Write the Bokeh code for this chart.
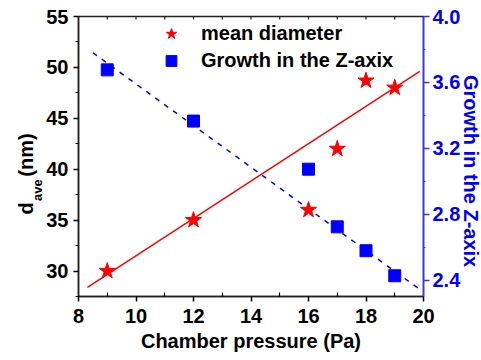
from bokeh.plotting import figure
from bokeh.models import (Range1d, LinearAxis, FixedTicker, Legend, LegendItem,
                          PrintfTickFormatter, Title)
from bokeh.embed import file_html
from bokeh.resources import INLINE

# ---- data ----
pressure = [9, 12, 16, 17, 18, 19]
diameter = [30, 35, 36, 42, 48.7, 48]
growth = [3.676, 3.365, 3.073, 2.723, 2.578, 2.426]

fit_d_x = [8.31, 19.87]
fit_d_y = [28.4, 49.6]
fit_g_x = [8.5, 19.8]
fit_g_y = [3.78, 2.352]

x_ticks = [8, 10, 12, 14, 16, 18, 20]
x_minor = [9, 11, 13, 15, 17, 19]
yl_ticks = [30, 35, 40, 45, 50, 55]
yl_minor = [27.5, 32.5, 37.5, 42.5, 47.5, 52.5]
yr_ticks = [2.4, 2.8, 3.2, 3.6, 4.0]
yr_minor = [2.6, 3.0, 3.4, 3.8]

FONT = "Liberation Sans"
RED = "#ff0000"
BLUE = "#0000ff"

W, H = 481, 360
L, R, T, B = 78, 58, 16, 64
X0, X1 = 8, 20
Y0, Y1 = 27.5, 55
TOP_TICK_PX = 3

p = figure(width=W, height=H, x_range=Range1d(X0, X1), y_range=Range1d(Y0, Y1),
           output_backend="svg", toolbar_location=None,
           min_border_left=L, min_border_right=R, min_border_top=T,
           min_border_bottom=B)
p.extra_y_ranges = {"g": Range1d(2.3, 4.0)}
p.grid.visible = False
p.outline_line_color = "#222222"
p.outline_line_width = 1.5
p.background_fill_color = "white"
p.border_fill_color = "white"

# bottom axis
xa = p.xaxis[0]
xa.ticker = FixedTicker(ticks=x_ticks, minor_ticks=x_minor)
xa.axis_label = "Chamber pressure (Pa)"
xa.axis_label_text_font = FONT
xa.axis_label_text_font_style = "bold"
xa.axis_label_text_font_size = "20px"
xa.axis_label_text_color = "black"
xa.axis_label_standoff = 4
xa.major_label_text_font = FONT
xa.major_label_text_font_style = "bold"
xa.major_label_text_font_size = "20px"
xa.major_label_text_color = "black"
xa.major_label_standoff = 7
xa.axis_line_width = 1.5
xa.axis_line_color = "#222222"
xa.major_tick_out = 5
xa.major_tick_in = 0
xa.minor_tick_out = 0
xa.minor_tick_in = 4
xa.major_tick_line_width = 1.5
xa.minor_tick_line_width = 1.2

# left axis
ya = p.yaxis[0]
ya.ticker = FixedTicker(ticks=yl_ticks, minor_ticks=yl_minor)
ya.major_label_text_font = FONT
ya.major_label_text_font_style = "bold"
ya.major_label_text_font_size = "20px"
ya.major_label_text_color = "black"
ya.major_label_standoff = 5
ya.axis_line_width = 1.5
ya.axis_line_color = "#222222"
ya.major_tick_out = 5
ya.major_tick_in = 0
ya.minor_tick_out = 3
ya.minor_tick_in = 0
ya.major_tick_line_width = 1.5
ya.minor_tick_line_width = 1.2

# right axis
ra = LinearAxis(y_range_name="g",
                ticker=FixedTicker(ticks=yr_ticks, minor_ticks=yr_minor),
                formatter=PrintfTickFormatter(format="%.1f"))
ra.major_label_text_font = FONT
ra.major_label_text_font_style = "bold"
ra.major_label_text_font_size = "20px"
ra.major_label_text_color = BLUE
ra.major_label_standoff = 3
ra.axis_label_standoff = 0
ra.axis_line_color = "#3333ff"
ra.axis_line_width = 1.5
ra.major_tick_line_color = "#3333ff"
ra.minor_tick_line_color = "#3333ff"
ra.major_tick_out = 6
ra.major_tick_in = 0
ra.minor_tick_out = 2
ra.minor_tick_in = 0
ra.major_tick_line_width = 1.5
ra.minor_tick_line_width = 1.2
p.add_layout(ra, "right")

# mirrored inward ticks on the top frame edge (from the x tick lists)
top_ticks = sorted(x_ticks + x_minor)[1:-1]
tick_len = TOP_TICK_PX * (Y1 - Y0) / (H - T - B)
p.segment(x0=top_ticks, y0=[Y1] * len(top_ticks), x1=top_ticks,
          y1=[Y1 - tick_len] * len(top_ticks), line_color="#222222",
          line_width=1.2)

# data
p.line(fit_d_x, fit_d_y, line_color=RED, line_width=1.5)
p.line(fit_g_x, fit_g_y, line_color=BLUE, line_width=1.5, line_dash="5 6",
       y_range_name="g")
stars = p.scatter(pressure, diameter, marker="star", size=17, fill_color=RED,
                  line_color=RED)
squares = p.scatter(pressure, growth, marker="square", size=12,
                    fill_color=BLUE, line_color=BLUE, y_range_name="g")

legend = Legend(items=[LegendItem(label="mean diameter", renderers=[stars]),
                       LegendItem(label="Growth in the Z-axix", renderers=[squares])],
                location=(75, 222), orientation="vertical",
                glyph_width=36, glyph_height=27, label_height=27, spacing=0,
                padding=0, margin=0, label_standoff=12,
                label_text_font=FONT, label_text_font_style="bold",
                label_text_font_size="20px", label_text_color="black",
                border_line_color=None, background_fill_alpha=0)
p.add_layout(legend, "center")

# left axis title: "d" + subscript "ave" + "(nm)" as side-panel titles
title_kw = dict(align="left", vertical_align="bottom", text_font=FONT,
                text_font_style="bold", text_color="black")
p.add_layout(Title(text="ave", offset=95.5, standoff=-3,
                   text_font_size="13px", **title_kw), "left")
p.add_layout(Title(text="d\u2003\u00a0(nm)", offset=82, standoff=-14.8,
                   text_font_size="20px", **title_kw), "left")

# right axis title
p.add_layout(Title(text="Growth in the Z-axix", align="left", offset=58.5,
                   standoff=-10.8, vertical_align="top", text_font=FONT,
                   text_font_style="bold", text_font_size="20px",
                   text_color=BLUE), "right")

open("out.html", "w").write(file_html(p, INLINE))
